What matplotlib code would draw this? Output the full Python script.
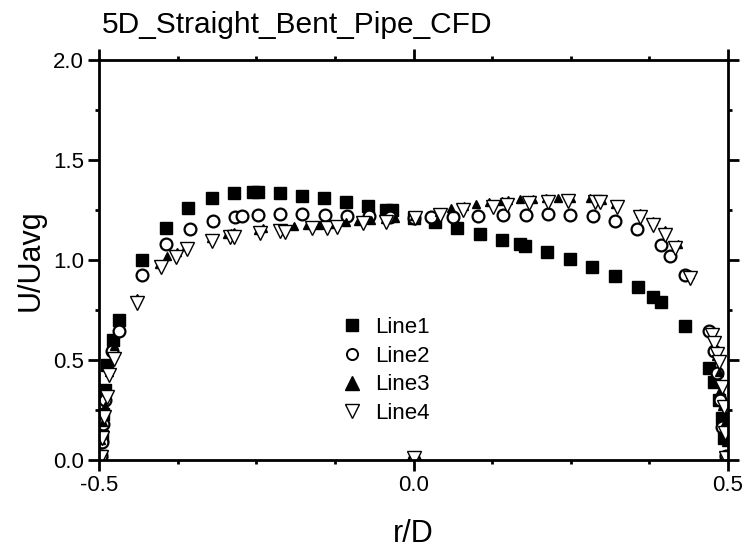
import matplotlib
matplotlib.use('Agg')
import matplotlib.pyplot as plt
from matplotlib.lines import Line2D
from matplotlib.ticker import MultipleLocator

plt.rcParams['font.family'] = ['Liberation Sans', 'DejaVu Sans']

# Line1 - squares
x1 = [-0.497, -0.496, -0.494, -0.490, -0.487, -0.478, -0.469, -0.432, -0.394, -0.358,
      -0.321, -0.285, -0.255, -0.247, -0.213, -0.178, -0.143, -0.108, -0.073, -0.043,
      -0.035, 0.000, 0.034, 0.069, 0.106, 0.140, 0.169, 0.177, 0.212, 0.248,
      0.283, 0.320, 0.357, 0.381, 0.394, 0.432, 0.469, 0.478, 0.485, 0.490,
      0.494, 0.497]
y1 = [0.02, 0.12, 0.23, 0.35, 0.475, 0.60, 0.70, 1.00, 1.16, 1.26,
      1.31, 1.333, 1.34, 1.34, 1.333, 1.32, 1.31, 1.29, 1.27, 1.25,
      1.25, 1.21, 1.19, 1.16, 1.13, 1.10, 1.08, 1.07, 1.04, 1.005,
      0.967, 0.92, 0.865, 0.815, 0.79, 0.67, 0.46, 0.39, 0.30, 0.21,
      0.11, 0.01]

# Line2 - open circles
x2 = [-0.497, -0.495, -0.493, -0.490, -0.479, -0.468, -0.432, -0.393, -0.356, -0.319,
      -0.284, -0.272, -0.248, -0.212, -0.177, -0.141, -0.106, -0.071, -0.037, 0.000,
      0.028, 0.063, 0.103, 0.143, 0.179, 0.213, 0.249, 0.285, 0.320, 0.356,
      0.393, 0.408, 0.432, 0.469, 0.477, 0.482, 0.487, 0.491, 0.496, 0.000]
y2 = [0.02, 0.09, 0.18, 0.30, 0.547, 0.647, 0.925, 1.078, 1.155, 1.197,
      1.217, 1.22, 1.225, 1.23, 1.23, 1.225, 1.22, 1.218, 1.217, 1.21,
      1.215, 1.217, 1.22, 1.225, 1.225, 1.228, 1.225, 1.22, 1.197, 1.155,
      1.075, 1.02, 0.925, 0.645, 0.545, 0.433, 0.30, 0.167, 0.02, 0.0]

# Line3 - filled up triangles
x3 = [-0.499, -0.497, -0.494, -0.491, -0.488, -0.484, -0.480, -0.476, -0.440, -0.404,
      -0.392, -0.376, -0.362, -0.322, -0.296, -0.290, -0.286, -0.248, -0.240, -0.208,
      -0.190, -0.170, -0.150, -0.128, -0.108, -0.088, -0.068, -0.046, -0.030, 0.000,
      0.040, 0.060, 0.080, 0.100, 0.120, 0.140, 0.150, 0.170, 0.190, 0.210,
      0.230, 0.250, 0.280, 0.300, 0.320, 0.360, 0.380, 0.400, 0.420, 0.440,
      0.476, 0.481, 0.485, 0.488, 0.491, 0.494, 0.497, 0.499, 0.000]
y3 = [0.02, 0.10, 0.19, 0.27, 0.35, 0.44, 0.51, 0.57, 0.81, 0.98,
      1.02, 1.04, 1.07, 1.11, 1.13, 1.135, 1.14, 1.15, 1.16, 1.16,
      1.17, 1.175, 1.175, 1.18, 1.19, 1.195, 1.20, 1.205, 1.21, 1.22,
      1.24, 1.26, 1.27, 1.28, 1.29, 1.295, 1.30, 1.305, 1.305, 1.31,
      1.31, 1.31, 1.31, 1.30, 1.28, 1.235, 1.195, 1.15, 1.08, 0.93,
      0.62, 0.52, 0.44, 0.35, 0.27, 0.18, 0.09, 0.02, 0.02]

# Line4 - open down triangles
x4 = [-0.497, -0.495, -0.492, -0.488, -0.484, -0.477, -0.439, -0.401, -0.378, -0.360,
      -0.321, -0.291, -0.286, -0.244, -0.212, -0.204, -0.162, -0.138, -0.122, -0.080,
      -0.044, 0.002, 0.042, 0.079, 0.127, 0.148, 0.183, 0.214, 0.246, 0.289,
      0.296, 0.323, 0.360, 0.381, 0.400, 0.416, 0.440, 0.474, 0.477, 0.482,
      0.485, 0.490, 0.493, 0.495, 0.497, 0.000]
y4 = [0.017, 0.108, 0.217, 0.317, 0.425, 0.503, 0.787, 0.967, 1.013, 1.053,
      1.095, 1.113, 1.113, 1.137, 1.145, 1.142, 1.158, 1.158, 1.167, 1.183,
      1.19, 1.208, 1.225, 1.25, 1.267, 1.275, 1.283, 1.288, 1.297, 1.292,
      1.292, 1.267, 1.217, 1.175, 1.125, 1.058, 0.908, 0.625, 0.583, 0.53,
      0.49, 0.367, 0.267, 0.133, 0.01, 0.01]

fig = plt.figure(figsize=(7.48, 5.49), dpi=100)
ax = fig.add_axes([0.1324, 0.1621, 0.8409, 0.7286])

ax.plot(x1, y1, 's', color='black', markersize=8, linestyle='none')
ax.plot(x2, y2, 'o', markerfacecolor='white', markeredgecolor='black',
        markeredgewidth=1.6, markersize=8.5, linestyle='none')
ax.plot(x3, y3, '^', color='black', markersize=6, linestyle='none')
ax.plot(x4, y4, 'v', markerfacecolor='white', markeredgecolor='black',
        markeredgewidth=1.0, markersize=10, linestyle='none')

ax.set_xlim(-0.5, 0.5)
ax.set_ylim(0.0, 2.0)
ax.xaxis.set_major_locator(MultipleLocator(0.5))
ax.xaxis.set_minor_locator(MultipleLocator(0.125))
ax.yaxis.set_major_locator(MultipleLocator(0.5))
ax.yaxis.set_minor_locator(MultipleLocator(0.25))
ax.xaxis.set_major_formatter(plt.FormatStrFormatter('%.1f'))
ax.yaxis.set_major_formatter(plt.FormatStrFormatter('%.1f'))

for s in ax.spines.values():
    s.set_linewidth(2)
ax.tick_params(which='both', direction='out', top=True, right=True, width=2)
ax.tick_params(which='major', length=8, labelsize=16, pad=3)
ax.tick_params(which='minor', length=3)

ax.set_xlabel('r/D', fontsize=22, labelpad=16)
ax.set_ylabel('U/Uavg', fontsize=22, labelpad=5)
fig.text(102 / 748, 1 - 33 / 549, '5D_Straight_Bent_Pipe_CFD', fontsize=21.5,
         va='baseline', ha='left')

handles = [
    Line2D([], [], marker='s', color='black', markersize=8, linestyle='none'),
    Line2D([], [], marker='o', markerfacecolor='white', markeredgecolor='black',
           markeredgewidth=1.4, markersize=8, linestyle='none'),
    Line2D([], [], marker='^', color='black', markersize=10, linestyle='none'),
    Line2D([], [], marker='v', markerfacecolor='white', markeredgecolor='black',
           markeredgewidth=1.0, markersize=10, linestyle='none'),
]
ax.legend(handles, ['Line1', 'Line2', 'Line3', 'Line4'], loc='upper left',
          bbox_to_anchor=(0.37, 0.38), frameon=False, fontsize=16,
          handlelength=1.0, handletextpad=0.55, labelspacing=0.35,
          borderaxespad=0)

fig.savefig('out.png', dpi=100)
